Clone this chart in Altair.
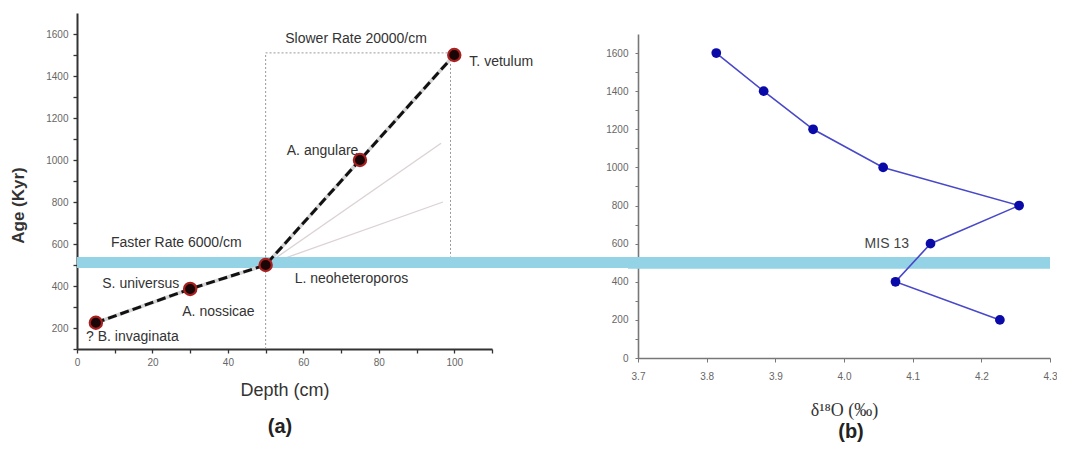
import altair as alt
import pandas as pd

# ---------------- Panel (a): age model ----------------
depth_a = [5, 30, 50, 75, 100]
age_a = [225, 386, 500, 1000, 1500]

label_text = ["Slower Rate 20000/cm", "T. vetulum", "A. angulare", "Faster Rate 6000/cm",
              "L. neoheteroporos", "S. universus", "A. nossicae", "? B. invaginata"]
label_depth = [55.2, 104, 55.6, 9.0, 57.7, 6.7, 27.9, 2.4]
label_age = [1576, 1467, 1044, 605, 432, 410, 276, 157]

box_depth = [50, 50, 99, 99]
box_age = [100, 1510, 1510, 540]

fan_seg = ["upper", "upper", "lower", "lower"]
fan_depth = [50, 96.5, 50, 97]
fan_age = [500, 1080, 500, 800]

band_a = [486, 538]

# ---------------- Panel (b): oxygen isotopes ----------------
d18o = [3.814, 3.883, 3.955, 4.057, 4.255, 4.126, 4.075, 4.227]
age_b = [1600, 1400, 1200, 1000, 800, 600, 400, 200]
mis_label = ["MIS 13"]
mis_x = [4.03]
mis_y = [598]
band_b = [468, 530]

WA, HA = 415, 336
WB, HB = 412, 324
GAP = 146
SANS = "Liberation Sans"

xs_a = alt.Scale(domain=[0, 110], nice=False, zero=False)
ys_a = alt.Scale(domain=[100, 1700], nice=False, zero=False)
xs_b = alt.Scale(domain=[3.7, 4.3], nice=False, zero=False)
ys_b = alt.Scale(domain=[0, 1700], nice=False, zero=False)

pts_a = pd.DataFrame({"depth": depth_a, "age": age_a, "i": range(len(depth_a))})
lab_a = pd.DataFrame({"depth": label_depth, "age": label_age, "text": label_text})
box_df = pd.DataFrame({"depth": box_depth, "age": box_age, "i": range(len(box_depth))})
fan_df = pd.DataFrame({"depth": fan_depth, "age": fan_age, "seg": fan_seg})
band_a_df = pd.DataFrame({"age": [band_a[0]], "hi": [band_a[1]]})

ax_x_a = alt.Axis(
    values=list(range(0, 111, 10)), format="d",
    labelExpr="datum.value % 20 == 0 && datum.value <= 100 ? datum.label : ''",
    title="Depth (cm)", titleFontSize=18, titleFontWeight="normal", titleColor="#333",
    titleY=41, titleBaseline="middle",
    labelFontSize=10, labelColor="#666", labelPadding=4, labelFlush=False, labelOverlap=False,
    tickSize=4, tickColor="#333", tickWidth=1.3, domainColor="#333", domainWidth=2, grid=False,
)
ax_y_a = alt.Axis(
    values=list(range(100, 1601, 100)), format="d",
    labelExpr="datum.value % 200 == 0 ? datum.label : ''",
    title="Age (Kyr)", titleFontSize=17, titleFontWeight="bold", titleColor="#333",
    titleX=-59, titleY=192, titleBaseline="middle",
    labelFontSize=10, labelColor="#666", labelPadding=5, labelFlush=False, labelOverlap=False,
    tickSize=4, tickColor="#333", tickWidth=1.3, domainColor="#333", domainWidth=2, grid=False,
)

XA = alt.X("depth:Q", scale=xs_a, axis=ax_x_a)
YA = alt.Y("age:Q", scale=ys_a, axis=ax_y_a)

box = alt.Chart(box_df).mark_line(color="#9a9a9a", strokeWidth=1, strokeDash=[2, 2]).encode(
    x=XA, y=YA, order="i:Q",
)
fan = alt.Chart(fan_df).mark_line(color="#dcd2d2", strokeWidth=1.3).encode(
    x=XA, y=YA, detail="seg:N",
)
band_left = alt.Chart(band_a_df).mark_rect(color="#93d3e5").encode(
    y=YA, y2="hi:Q", x=alt.value(0), x2=alt.value(WA + GAP),
)
texts_a = alt.Chart(lab_a).mark_text(align="left", baseline="middle", fontSize=14,
                                     color="#333", font=SANS).encode(
    x=XA, y=YA, text="text:N",
)
line_base = alt.Chart(pts_a).mark_line(color="#d4d4d4", strokeWidth=3.6).encode(
    x=XA, y=YA, order="i:Q",
)
line_dash = alt.Chart(pts_a).mark_line(color="#111", strokeWidth=3, strokeDash=[9, 4]).encode(
    x=XA, y=YA, order="i:Q",
)
points_a = alt.Chart(pts_a).mark_point(filled=True, shape="circle", size=150, fill="#1a0606",
                                       stroke="#a82020", strokeWidth=2.2, opacity=1).encode(
    x=XA, y=YA,
)
tag_a = alt.Chart(pd.DataFrame({"t": ["(a)"]})).mark_text(
    fontSize=20, fontWeight="bold", color="#222", font=SANS, baseline="middle", align="center"
).encode(x=alt.value(203), y=alt.value(414), text="t:N")

left = alt.layer(box, fan, band_left, texts_a, line_base, line_dash, points_a, tag_a).properties(
    width=WA, height=HA
)

# ---------------- right panel ----------------
pts_b = pd.DataFrame({"d18o": d18o, "age": age_b})
mis_df = pd.DataFrame({"d18o": mis_x, "age": mis_y, "text": mis_label})
band_b_df = pd.DataFrame({"age": [band_b[0]], "hi": [band_b[1]]})

ax_x_b = alt.Axis(
    values=[3.7, 3.8, 3.9, 4.0, 4.1, 4.2, 4.3], format=".1f",
    title="δ¹⁸O (‰)", titleFont="Liberation Serif", titleFontSize=18, titleFontWeight="normal",
    titleColor="#333", titleY=52, titleBaseline="middle",
    labelFontSize=10, labelColor="#666", labelPadding=9, labelFlush=False, labelOverlap=False,
    tickSize=4, tickColor="#777", domainColor="#777", domainWidth=1.6, grid=False,
)
ax_y_b = alt.Axis(
    values=list(range(0, 1601, 100)), format="d",
    labelExpr="datum.value % 200 == 0 ? datum.label : ''",
    title=None,
    labelFontSize=10, labelColor="#666", labelPadding=7, labelFlush=False, labelOverlap=False,
    tickSize=3, tickColor="#777", domainColor="#777", domainWidth=1.6, grid=False,
)

XB = alt.X("d18o:Q", scale=xs_b, axis=ax_x_b)
YB = alt.Y("age:Q", scale=ys_b, axis=ax_y_b)

band_right = alt.Chart(band_b_df).mark_rect(color="#93d3e5").encode(
    y=YB, y2="hi:Q", x=alt.value(-10), x2=alt.value(WB),
)
line_b = alt.Chart(pts_b).mark_line(color="#4848c8", strokeWidth=1.6).encode(
    x=XB, y=YB, order="age:Q",
)
points_b = alt.Chart(pts_b).mark_point(filled=True, shape="circle", size=95, color="#0a0aa8",
                                       opacity=1).encode(
    x=XB, y=YB,
)
mis_text = alt.Chart(mis_df).mark_text(align="left", baseline="middle", fontSize=14,
                                       color="#444", font=SANS).encode(
    x=XB, y=YB, text="text:N",
)
tag_b = alt.Chart(pd.DataFrame({"t": ["(b)"]})).mark_text(
    fontSize=20, fontWeight="bold", color="#222", font=SANS, baseline="middle", align="center"
).encode(x=alt.value(213), y=alt.value(398), text="t:N")

right = alt.layer(band_right, line_b, points_b, mis_text, tag_b).properties(
    width=WB, height=HB
)

spacer = alt.Chart(pd.DataFrame({"v": [0]})).mark_point(opacity=0).encode(
    x=alt.value(10), y=alt.value(10)
).properties(width=WB, height=21)

right_col = alt.vconcat(spacer, right, spacing=0)

chart = alt.hconcat(left, right_col, spacing=GAP, bounds="flush").properties(
    padding={"left": 1, "top": 5, "right": 0, "bottom": 0},
    background="white",
).configure(font=SANS).configure_view(stroke=None)

chart.save("out.html", embed_options={"renderer": "svg", "actions": False})
